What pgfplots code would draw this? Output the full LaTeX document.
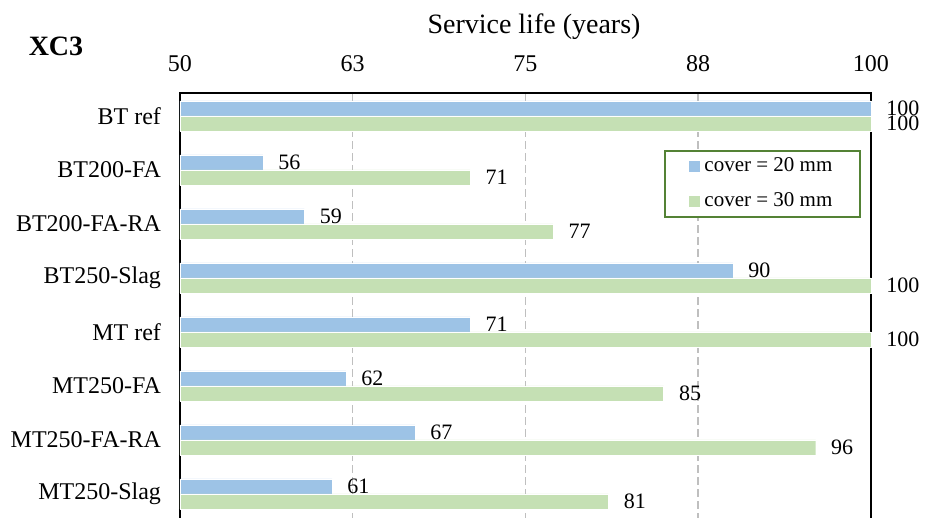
\documentclass[border=0pt]{standalone}
\usepackage{pgfplots}
\usepackage{pgfplotstable}
\pgfplotsset{compat=1.18}
\usepackage{fontspec}
\setmainfont{Liberation Serif}
\usetikzlibrary{calc}
\definecolor{cblue}{HTML}{9DC3E6}
\definecolor{cgreen}{HTML}{C5E0B4}
\definecolor{lgreen}{HTML}{548235}
\definecolor{gridgray}{HTML}{BFBFBF}

\pgfplotstableread{
y  a    b
7  100  100
6  56   71
5  59   77
4  90   100
3  71   100
2  62   85
1  67   96
0  61   81
}\data

\begin{document}
\begin{tikzpicture}
\begin{axis}[
  name=ax,
  scale only axis,
  width=345.5pt, height=214pt,
  xbar, bar width=7.5pt,
  xmin=0, xmax=50,
  ymin=-0.5, ymax=7.426,
  xtick={0,12.5,25,37.5,50},
  xticklabels={50,63,75,88,100},
  xticklabel pos=upper,
  ytick={0,...,7},
  yticklabels={MT250-Slag,MT250-FA-RA,MT250-FA,MT ref,BT250-Slag,BT200-FA-RA,BT200-FA,BT ref},
  major tick length=0pt,
  xmajorgrids,
  grid style={gridgray, dash pattern=on 4pt off 2pt, line width=0.75pt},
  axis line style={black, line width=1pt},
  tick label style={font=\fontsize{12}{14}\selectfont},
  xticklabel style={yshift=7pt},
  yticklabel style={xshift=-6pt},
  clip=false,
  nodes near coords,
  point meta=explicit,
  /pgf/number format/assume math mode=true,
  every node near coord/.append style={font=\fontsize{11}{13}\selectfont, anchor=west, xshift=4.3pt, text=black},
  legend style={at={(0.7004,0.8668)}, anchor=north west, draw=lgreen, line width=0.9pt,
    font=\fontsize{10.5}{12}\selectfont, inner xsep=12pt, inner ysep=1.5pt, row sep=5pt,
    cells={anchor=west}},
  legend image code/.code={\fill[#1,draw=none] (0pt,-2.9pt) rectangle (5.8pt,2.9pt);},
]
\addplot[fill=cblue, draw=white, line width=0.2pt, bar shift=3.75pt]
  table[x expr=\thisrow{a}-50, y=y, meta=a] {\data};
\addplot[fill=cgreen, draw=white, line width=0.2pt, bar shift=-3.75pt]
  table[x expr=\thisrow{b}-50, y=y, meta=b] {\data};
\legend{cover = 20 mm, cover = 30 mm}
\end{axis}
\node[font=\fontsize{14}{16}\selectfont] at ($(ax.south west)+(177pt,247pt)$) {Service life (years)};
\node[font=\fontsize{14}{16}\selectfont\bfseries] at ($(ax.south west)+(-62pt,237.5pt)$) {XC3};
\pgfresetboundingbox
\path[use as bounding box] ($(ax.south west)+(-90pt,1.5pt)$) rectangle ($(ax.south west)+(373pt,260.5pt)$);
\end{tikzpicture}
\end{document}
